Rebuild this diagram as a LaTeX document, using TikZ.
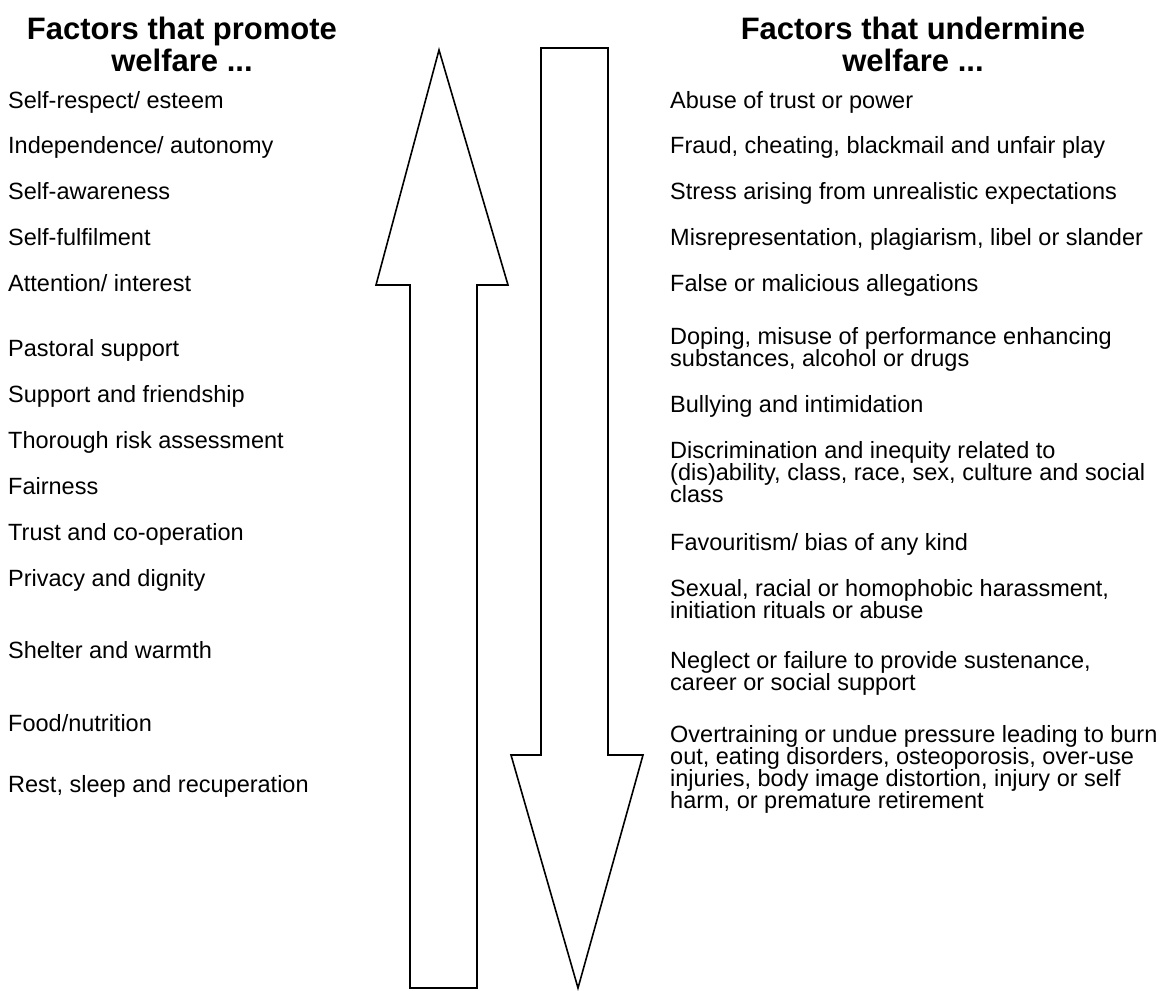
\documentclass[tikz,border=0pt]{standalone}
\usepackage{fontspec}
\setmainfont{Liberation Sans}
\usepackage{tikz}
\usetikzlibrary{calc}

\tikzset{
  heading/.style={font=\bfseries\fontsize{31}{32}\selectfont, align=center, anchor=base, inner sep=0pt},
  factor/.style={font=\fontsize{23.5}{22}\selectfont, align=left, anchor=base west, inner sep=0pt},
  bigarrow/.style={draw=black, line width=1.6pt, line join=miter}
}

\begin{document}
\begin{tikzpicture}[x=1pt, y=-1pt]
    \fill[white] (0,0) rectangle (1161,990);
    \useasboundingbox (0,0) rectangle (1161,990);

    % headings (base = last line)
    \node[heading] (promote) at (182,71) {Factors that promote\\welfare ...};
    \node[heading] (undermine) at (913,71) {Factors that undermine\\welfare ...};

    % the two arrows
    \draw[bigarrow] (439,50) -- (508,285) -- (477,285) -- (477,988)
        -- (410,988) -- (410,285) -- (376,285) -- cycle;
    \draw[bigarrow] (541,48) -- (608,48) -- (608,755) -- (643,755)
        -- (578,988) -- (511,755) -- (541,755) -- cycle;

    % factors that promote welfare
    \node[factor] (p1) at (8,108) {Self-respect/ esteem};
    \node[factor] (p2) at (8,153) {Independence/ autonomy};
    \node[factor] (p3) at (8,199) {Self-awareness};
    \node[factor] (p4) at (8,245) {Self-fulfilment};
    \node[factor] (p5) at (8,291) {Attention/ interest};
    \node[factor] (p6) at (8,356) {Pastoral support};
    \node[factor] (p7) at (8,402) {Support and friendship};
    \node[factor] (p8) at (8,448) {Thorough risk assessment};
    \node[factor] (p9) at (8,494) {Fairness};
    \node[factor] (p10) at (8,540) {Trust and co-operation};
    \node[factor] (p11) at (8,586) {Privacy and dignity};
    \node[factor] (p12) at (8,658) {Shelter and warmth};
    \node[factor] (p13) at (8,731) {Food/nutrition};
    \node[factor] (p14) at (8,792) {Rest, sleep and recuperation};

    % factors that undermine welfare (base = last line)
    \node[factor] (u1) at (670,108) {Abuse of trust or power};
    \node[factor] (u2) at (670,153) {Fraud, cheating, blackmail and unfair play};
    \node[factor] (u3) at (670,199) {Stress arising from unrealistic expectations};
    \node[factor] (u4) at (670,245) {Misrepresentation, plagiarism, libel or slander};
    \node[factor] (u5) at (670,291) {False or malicious allegations};
    \node[factor] (u6) at (670,366) {Doping, misuse of performance enhancing\\substances, alcohol or drugs};
    \node[factor] (u7) at (670,412) {Bullying and intimidation};
    \node[factor] (u8) at (670,502) {Discrimination and inequity related to\\(dis)ability, class, race, sex, culture and social\\class};
    \node[factor] (u9) at (670,550) {Favouritism/ bias of any kind};
    \node[factor] (u10) at (670,618) {Sexual, racial or homophobic harassment,\\initiation rituals or abuse};
    \node[factor] (u11) at (670,690) {Neglect or failure to provide sustenance,\\career or social support};
    \node[factor] (u12) at (670,808) {Overtraining or undue pressure leading to burn\\out, eating disorders, osteoporosis, over-use\\injuries, body image distortion, injury or self\\harm, or premature retirement};
\end{tikzpicture}
\end{document}
